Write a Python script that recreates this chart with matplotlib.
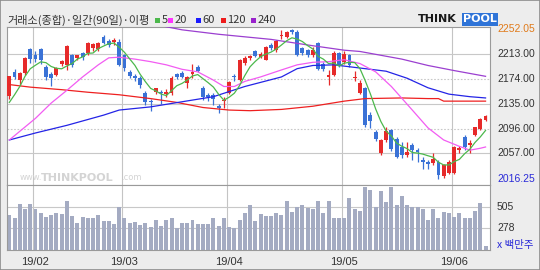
import numpy as np
import pandas as pd
import matplotlib
matplotlib.use('Agg')
import matplotlib.pyplot as plt
from matplotlib.patches import Rectangle
from matplotlib.transforms import blended_transform_factory

plt.rcParams['font.family'] = ['Noto Sans CJK KR', 'DejaVu Sans']

# daily candles 2019-01-25 .. 2019-06-12 (92 sessions)
opens = [2147, 2185, 2172, 2183, 2221, 2212, 2221, 2193, 2181, 2180,
         2198, 2196, 2211, 2206, 2215, 2214, 2222, 2221, 2240, 2233,
         2232, 2232, 2211, 2184, 2178, 2175, 2151, 2140, 2154, 2154,
         2150, 2151, 2181, 2183, 2167, 2181, 2193, 2159, 2148, 2149,
         2131, 2139, 2151, 2178, 2172, 2199, 2206, 2217, 2209, 2204,
         2227, 2219, 2241, 2240, 2250, 2248, 2222, 2219, 2211, 2230,
         2198, 2177, 2180, 2214, 2200, 2211, 2175, 2152, 2159, 2117,
         2091, 2058, 2078, 2094, 2080, 2067, 2054.4, 2070, 2062, 2046.5,
         2044, 2042, 2044, 2021.4, 2025.6, 2026.6, 2062.2, 2083, 2070, 2085.8,
         2094.7, 2109.3]
highs = [2179, 2190, 2185, 2208, 2222, 2217, 2222, 2196, 2184, 2192,
         2203, 2227, 2213, 2212, 2216, 2232, 2231, 2232, 2243, 2236,
         2238, 2236, 2213, 2188, 2182, 2178, 2155, 2143, 2160, 2157,
         2158, 2178, 2183, 2186, 2179, 2197, 2195, 2162, 2152, 2151,
         2134, 2145, 2170, 2181, 2205, 2210, 2212, 2219, 2216, 2226,
         2230, 2235, 2250, 2249, 2252.05, 2250, 2224, 2221, 2224, 2232,
         2200, 2188, 2217, 2216, 2218, 2213, 2186, 2172, 2161, 2122,
         2093, 2080, 2099, 2096, 2082, 2075, 2075, 2073, 2065, 2052,
         2046.5, 2057, 2046, 2041, 2046, 2069, 2068, 2085.5, 2078, 2099,
         2112, 2117]
lows = [2143, 2174, 2165, 2180, 2199, 2200, 2198, 2172, 2162, 2178,
        2194, 2188, 2193, 2203, 2203, 2212, 2218, 2218, 2228, 2224,
        2227, 2194, 2187, 2176, 2170, 2160, 2133, 2124, 2150, 2135,
        2146, 2149, 2174, 2175, 2159, 2175, 2184, 2141, 2139, 2133,
        2120, 2128, 2150, 2171, 2170, 2196, 2203, 2208, 2206, 2203,
        2219, 2216, 2236, 2238, 2244, 2210, 2212, 2208, 2209, 2188,
        2186, 2165, 2178, 2193, 2197, 2193, 2170, 2150, 2099, 2097,
        2076, 2055, 2075, 2060, 2049, 2049, 2052, 2047, 2044, 2033,
        2033, 2039, 2016.25, 2019, 2024, 2025, 2058, 2062, 2057, 2084,
        2093, 2108]
closes = [2177.7, 2177.3, 2183.4, 2206.2, 2204.9, 2205.5, 2203.4, 2177.1, 2176, 2190.9,
          2201.5, 2225.9, 2196.1, 2210.9, 2208, 2229.8, 2228.1, 2230.5, 2231, 2226.6,
          2234.8, 2195.4, 2190.7, 2179.2, 2175.6, 2165, 2137.4, 2138.1, 2159, 2151,
          2153, 2176.1, 2177, 2177.1, 2177.6, 2184.9, 2187, 2144.9, 2145.5, 2143,
          2128.1, 2140.7, 2168.3, 2177.2, 2203.3, 2206.5, 2209.6, 2210.6, 2213.2, 2224.3,
          2222, 2233.5, 2242.9, 2247, 2247, 2212, 2214, 2211, 2220, 2190,
          2190, 2179.3, 2215.1, 2196, 2213, 2196.3, 2177, 2168, 2102, 2108,
          2079, 2078, 2092.8, 2064, 2052, 2054, 2059.6, 2062, 2059.6, 2044,
          2041, 2047.5, 2023, 2038.6, 2043.9, 2067.4, 2064.8, 2067.4, 2073.7, 2097.8,
          2110.4, 2115.6]
# volume, millions of shares
volumes = [422, 393, 541, 490, 541, 490, 443, 404, 422, 443,
           433, 573, 411, 339, 404, 393, 393, 422, 357, 357,
           328, 512, 393, 339, 346, 317, 335, 289, 368, 307,
           368, 393, 281, 339, 339, 368, 321, 321, 321, 386,
           307, 386, 292, 281, 368, 443, 526, 357, 433, 411,
           411, 447, 422, 573, 458, 508, 526, 497, 487, 573,
           440, 573, 393, 393, 386, 609, 487, 469, 721, 692,
           508, 685, 566, 728, 533, 627, 526, 508, 508, 487,
           368, 487, 393, 457, 440, 400, 447, 393, 386, 468,
           551, 92]

month_labels = ['19/02', '19/03', '19/04', '19/05', '19/06']
month_starts = [5, 22, 42, 64, 85]

# moving averages (index, value)
ma5_head = [2137, 2149, 2162, 2178]
ma20_idx = [0, 5, 8, 11, 14, 17, 19, 21, 24, 27, 30, 33, 36, 39, 41, 43, 45, 48,
            52, 55, 58, 61, 64, 67, 70, 73, 77, 80, 83, 86, 88, 90, 91]
ma20_val = [2078, 2112, 2136, 2156, 2177, 2196, 2207, 2208, 2205, 2201, 2196, 2189,
            2185, 2172, 2162, 2162, 2170, 2177, 2188, 2196, 2200, 2201, 2204, 2198,
            2185, 2162, 2125, 2097, 2078, 2068, 2062, 2065, 2067]
ma60_idx = [0, 5, 11, 18, 21, 27, 33, 39, 42, 45, 52, 55, 58, 62, 67, 72, 76, 80, 84, 88, 91]
ma60_val = [2078, 2089, 2101, 2117, 2125, 2130, 2138, 2146, 2154, 2162, 2177, 2190,
            2195, 2196, 2191, 2186, 2175, 2160, 2150, 2146, 2144]
ma120_idx = [0, 4, 10, 15, 21, 27, 32, 37, 42, 46, 52, 58, 64, 68, 75, 80, 82, 83, 91]
ma120_val = [2165, 2161, 2157, 2153, 2149, 2143, 2137, 2129, 2125, 2124, 2126, 2131,
             2139, 2143, 2144, 2143, 2143, 2139, 2139]
ma240_idx = [28, 33, 40, 50, 58, 64, 67, 75, 80, 85, 91]
ma240_val = [2259, 2251, 2244, 2236, 2226, 2219, 2217, 2205, 2195, 2187, 2178]

price_ticks = [2213.00, 2174.00, 2135.00, 2096.00, 2057.00]
price_max, price_min = 2252.05, 2016.25
vol_ticks = [505, 278]

RED = '#e62a2a'
BLUE = '#3a72d6'
W, H = 540, 270


def box(l, t, r, b):
    return [l / W, 1 - b / H, (r - l) / W, (b - t) / H]


fig = plt.figure(figsize=(W / 100, H / 100), dpi=100, facecolor='#ededed')
ax = fig.add_axes(box(6.5, 26.7, 490, 185))
axv = fig.add_axes(box(6.5, 185, 490, 250), sharex=ax)

for a in (ax, axv):
    a.set_facecolor('white')
    a.tick_params(left=False, bottom=False, labelleft=False, labelbottom=False)
    for s in a.spines.values():
        s.set_color('#9a9a9a')
        s.set_linewidth(0.8)
    for m in month_starts:
        a.axvline(m - 0.4, color='#c4c4c4', lw=0.8, zorder=0)

# price panel
x = np.arange(len(closes))
o, h, l, c = map(np.array, (opens, highs, lows, closes))
col = np.where(c >= o, RED, BLUE)
for i, p in enumerate(price_ticks):
    ax.axhline(p, color='#c8c8c8', lw=0.8, ls='-' if i % 2 == 0 else (0, (1.5, 1.5)), zorder=0)
ax.vlines(x, l, h, colors=col, lw=0.9, zorder=3)
ax.bar(x, np.maximum(np.abs(c - o), 1.3), bottom=np.minimum(o, c), width=0.74,
       color=col, linewidth=0, zorder=4)

ma5 = pd.Series(closes).rolling(5).mean()
ma5.iloc[:4] = ma5_head
ax.plot(ma240_idx, ma240_val, color='#9b3fd0', lw=0.9, zorder=5)
ax.plot(ma120_idx, ma120_val, color='#ee2020', lw=0.9, zorder=5)
ax.plot(ma60_idx, ma60_val, color='#2424e6', lw=0.9, zorder=5)
ax.plot(ma20_idx, ma20_val, color='#f25cf2', lw=0.9, zorder=5)
ax.plot(x, ma5, color='#4cb84c', lw=0.9, zorder=6)

ax.set_xlim(-0.54, 91.85)
ax.set_ylim(2007.3, 2255.9)

tr = blended_transform_factory(ax.transAxes, ax.transData)
num_font = dict(family='Liberation Sans', fontsize=7.5)
for p in price_ticks:
    ax.text(1.0145, p, f'{p:.2f}', transform=tr, ha='left', va='center', color='#333333', **num_font)
ax.text(1.0145, price_max, f'{price_max:.2f}', transform=tr, ha='left', va='center',
        color='#e07a1a', **num_font)
ax.text(1.0145, price_min, f'{price_min:.2f}', transform=tr, ha='left', va='center',
        color='#2a2ad8', **num_font)

# watermark
wm_y = 1 - 178 / H
fig.text(20 / W, wm_y, 'www.', color='#d4d4d4', fontsize=6, family='DejaVu Sans', va='center')
fig.text(41 / W, wm_y, 'THINKPOOL', color='#d4d4d4', fontsize=8, fontweight='bold',
         family='DejaVu Sans', va='center')
fig.text(121 / W, wm_y, '.com', color='#d4d4d4', fontsize=6, family='DejaVu Sans', va='center')

# volume panel
axv.bar(x, volumes, width=0.76, color='#a4abc2', linewidth=0, zorder=2)
for v in vol_ticks:
    axv.axhline(v, color='#c8c8c8', lw=0.8, zorder=0)
axv.set_ylim(43.4, 746)
trv = blended_transform_factory(axv.transAxes, axv.transData)
for v in vol_ticks:
    axv.text(1.0145, v, str(v), transform=trv, ha='left', va='center', color='#333333', **num_font)
fig.text(497 / W, 1 - 245 / H, 'x 백만주', color='#2a2ad8', fontsize=7.5, va='center')

trd = blended_transform_factory(axv.transData, fig.transFigure)
for m, lab in zip(month_starts, month_labels):
    axv.text(m - 0.1, 1 - 262 / H, lab, transform=trd, ha='center', va='center',
             color='#333333', family='Liberation Sans', fontsize=8)

# header
fig.text(7 / W, 1 - 20 / H, '거래소(종합)·일간(90일)·이평', fontsize=8, color='#333333', va='center')
legend = [('5', '#4cb84c', 155), ('20', '#ff33ff', 168), ('60', '#1a1aff', 196),
          ('120', '#ee1c1c', 221), ('240', '#9922cc', 251)]
for lab, cc, px in legend:
    fig.add_artist(Rectangle((px / W, 1 - 23 / H), 5 / W, 5.5 / H, transform=fig.transFigure,
                             facecolor=cc, edgecolor='none'))
    fig.text((px + 6.5) / W, 1 - 20 / H, lab, fontsize=8, color='#333333', va='center')

fig.text(418 / W, 1 - 19.5 / H, 'THINK', fontsize=8, fontweight='bold', color='#1a1a1a',
         family='DejaVu Sans', va='center')
fig.text(463 / W, 1 - 19.5 / H, 'POOL', fontsize=8, fontweight='bold', color='white',
         family='DejaVu Sans', va='center',
         bbox=dict(boxstyle='square,pad=0.1', facecolor='#2f74d8', edgecolor='none'))

fig.add_artist(Rectangle((0, 0), 1, 1, transform=fig.transFigure, fill=False,
                         edgecolor='#8c8c8c', lw=1.2))

fig.savefig('out.png', dpi=100, facecolor=fig.get_facecolor())
